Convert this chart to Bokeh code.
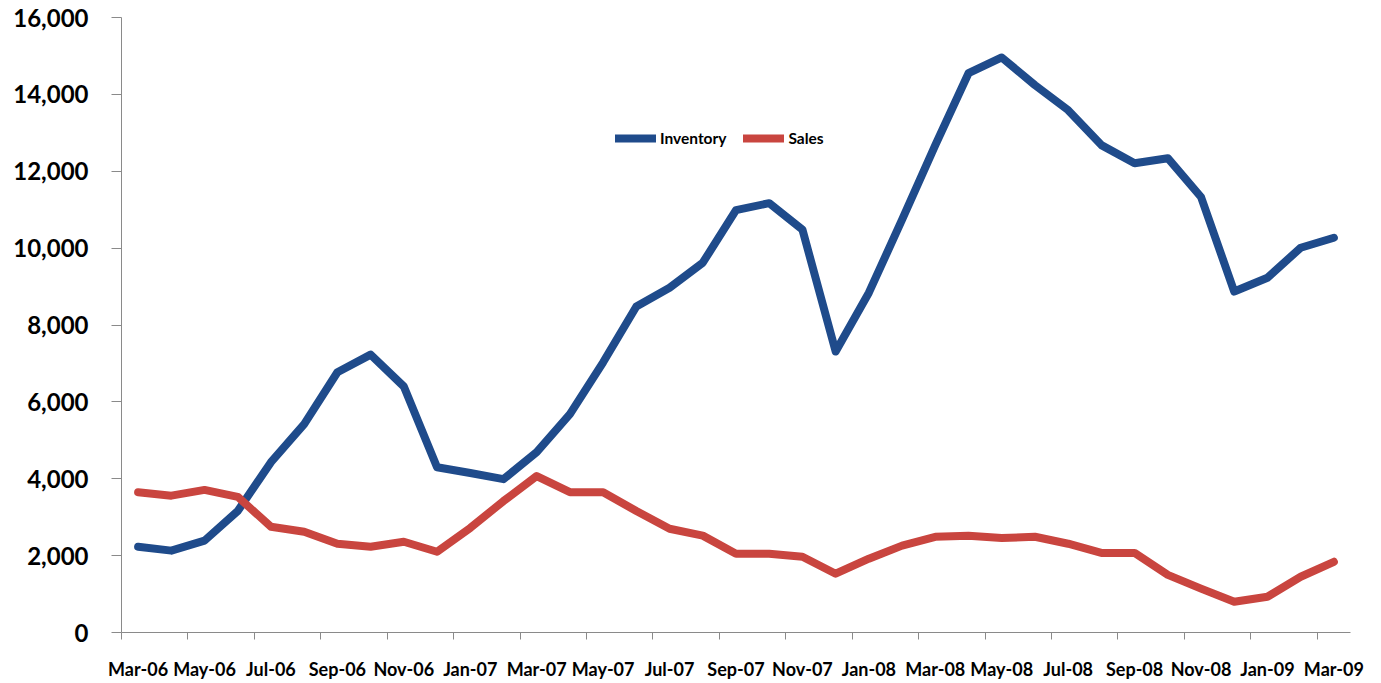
from bokeh.plotting import figure
from bokeh.models import FixedTicker, NumeralTickFormatter, Range1d, Legend, LegendItem
from bokeh.embed import file_html
from bokeh.resources import INLINE

months = ["Mar-06", "Apr-06", "May-06", "Jun-06", "Jul-06", "Aug-06", "Sep-06", "Oct-06",
          "Nov-06", "Dec-06", "Jan-07", "Feb-07", "Mar-07", "Apr-07", "May-07", "Jun-07",
          "Jul-07", "Aug-07", "Sep-07", "Oct-07", "Nov-07", "Dec-07", "Jan-08", "Feb-08",
          "Mar-08", "Apr-08", "May-08", "Jun-08", "Jul-08", "Aug-08", "Sep-08", "Oct-08",
          "Nov-08", "Dec-08", "Jan-09", "Feb-09", "Mar-09"]

inventory = [2230, 2130, 2390, 3160, 4430, 5420, 6770, 7230, 6400, 4300,
             4150, 3990, 4690, 5680, 7030, 8480, 8970, 9620, 10990, 11170,
             10480, 7310, 8840, 10740, 12680, 14550, 14960, 14240, 13590, 12680,
             12210, 12340, 11330, 8870, 9230, 10010, 10270]

sales = [3650, 3560, 3710, 3530, 2750, 2620, 2310, 2230, 2360, 2100,
         2720, 3420, 4070, 3650, 3650, 3160, 2700, 2520, 2050, 2050,
         1970, 1530, 1920, 2260, 2490, 2520, 2460, 2490, 2310, 2070,
         2070, 1500, 1140, 800, 930, 1450, 1840]

y_ticks = [0, 2000, 4000, 6000, 8000, 10000, 12000, 14000, 16000]

x = list(range(len(months)))
label_idx = list(range(0, len(months), 2))
boundary_ticks = [i - 0.5 for i in label_idx]

p = figure(width=1373, height=682, output_backend="svg", toolbar_location=None,
           x_range=Range1d(-0.5, len(months) - 0.5), y_range=Range1d(0, 16000),
           min_border_left=121, min_border_right=23, min_border_top=17, min_border_bottom=48)
p.outline_line_color = None
p.xgrid.visible = False
p.ygrid.visible = False
p.background_fill_color = "white"

blue = "#1F4B8B"
red = "#C9453F"
r1 = p.line(x, inventory, line_color=blue, line_width=8, line_join="round", line_cap="round")
r2 = p.line(x, sales, line_color=red, line_width=8, line_join="round", line_cap="round")

FONT = "Lato"
AXIS_COLOR = "#8A8A8A"

xa = p.xaxis[0]
xa.ticker = FixedTicker(ticks=label_idx, minor_ticks=boundary_ticks)
xa.major_label_overrides = {i: months[i] for i in label_idx}
xa.major_tick_out = 0
xa.major_tick_in = 0
xa.minor_tick_out = 7
xa.minor_tick_in = 0
xa.minor_tick_line_color = AXIS_COLOR
xa.axis_line_color = AXIS_COLOR
xa.major_label_text_font = FONT
xa.major_label_text_font_style = "bold"
xa.major_label_text_font_size = "18px"
xa.major_label_text_color = "black"
xa.major_label_standoff = 18

ya = p.yaxis[0]
ya.ticker = FixedTicker(ticks=y_ticks, minor_ticks=[])
ya.formatter = NumeralTickFormatter(format="0,0")
ya.major_tick_out = 10
ya.major_tick_in = 0
ya.minor_tick_out = 0
ya.minor_tick_in = 0
ya.major_tick_line_color = AXIS_COLOR
ya.axis_line_color = AXIS_COLOR
ya.major_label_text_font = FONT
ya.major_label_text_font_style = "bold"
ya.major_label_text_font_size = "24px"
ya.major_label_text_color = "black"
ya.major_label_standoff = 23

legend = Legend(items=[LegendItem(label="Inventory", renderers=[r1]),
                       LegendItem(label="Sales", renderers=[r2])],
                orientation="horizontal", location=(494, 485))
legend.border_line_color = None
legend.background_fill_alpha = 0
legend.padding = 0
legend.margin = 0
legend.spacing = 17
legend.glyph_width = 41
legend.glyph_height = 16
legend.label_standoff = 4
legend.label_text_font = FONT
legend.label_text_font_style = "bold"
legend.label_text_font_size = "15.5px"
legend.label_text_color = "black"
legend.label_height = 16
p.add_layout(legend, "center")

open("out.html", "w").write(file_html(p, INLINE))
